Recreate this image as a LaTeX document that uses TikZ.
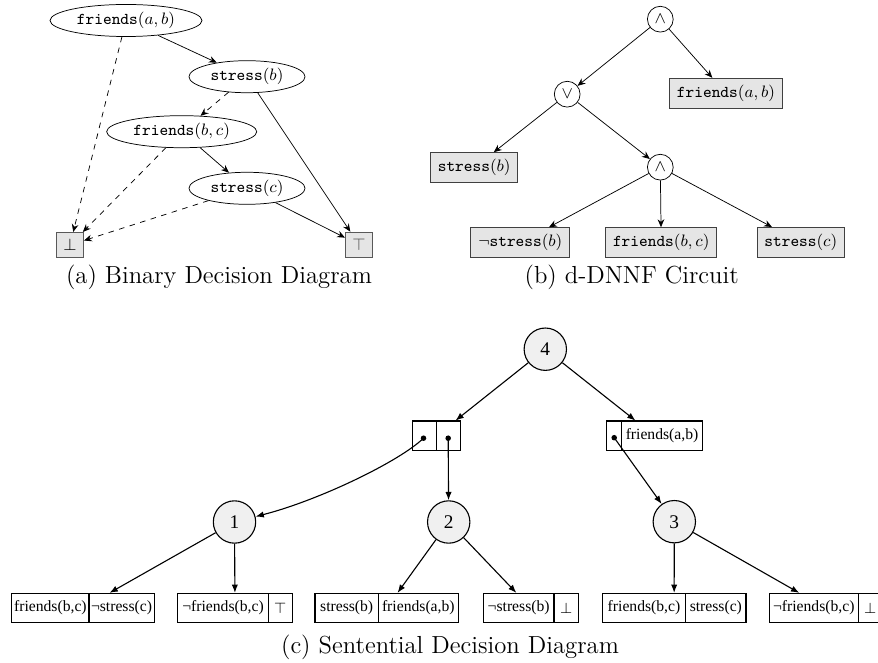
\documentclass[tikz,border=0pt]{standalone}
\usepackage{fontspec}
\newfontfamily\sddf{Liberation Serif}
\usetikzlibrary{shapes.geometric,arrows.meta,fit,calc}
\begin{document}
\begin{tikzpicture}[x=0.543pt,y=0.543pt,
  bdd/.style={ellipse,draw,line width=0.4pt,inner sep=0pt,minimum height=17.4pt,font=\small},
  leaf/.style={draw=black!65,fill=black!10,line width=0.5pt,minimum width=14.7pt,minimum height=13.6pt,inner sep=0pt,font=\small},
  gate/.style={circle,draw,line width=0.4pt,minimum size=14pt,inner sep=0pt,font=\small},
  lit/.style={draw=black!75,fill=black!10,line width=0.5pt,inner xsep=4pt,inner ysep=0pt,minimum height=16.3pt,font=\small},
  arr/.style={-{Stealth[length=4.3pt,width=3.6pt,inset=1.4pt]},line width=0.4pt},
  num/.style={circle,draw,line width=0.6pt,fill=black!6,minimum size=23pt,inner sep=0pt,font=\sddf\fontsize{10.5}{12}\selectfont},
  cell/.style={draw,line width=0.6pt,minimum height=16pt,inner sep=0pt,outer sep=0pt,anchor=west,font=\sddf\fontsize{8.5}{10}\selectfont},
  sarr/.style={-{Latex[length=4.5pt,width=3.4pt]},line width=0.6pt},
  dotm/.style={circle,fill,inner sep=0pt,minimum size=3pt},
  captxt/.style={font=\fontsize{13.4}{16}\selectfont}
]
\useasboundingbox (0,0) rectangle (878,-663);

% ---------- (a) BDD ----------
\node[bdd,minimum width=82.5pt] (fab) at (126,-20.5) {\texttt{friends}$(a,b)$};
\node[bdd,minimum width=63pt] (sb) at (247,-76.7) {\texttt{stress}$(b)$};
\node[bdd,minimum width=81.5pt] (fbc) at (181.7,-131.7) {\texttt{friends}$(b,c)$};
\node[bdd,minimum width=63pt] (sc) at (247,-188.3) {\texttt{stress}$(c)$};
\node[leaf] (bot) at (70,-245) {$\bot$};
\node[leaf] (top) at (359,-244.7) {\textcolor{black!70}{$\top$}};
\draw[arr] (fab) -- (sb);
\draw[arr,dashed] (fab) -- (bot);
\draw[arr,dashed] (sb) -- (fbc);
\draw[arr] (sb) -- (top);
\draw[arr] (fbc) -- (sc);
\draw[arr,dashed] (fbc) -- (bot);
\draw[arr,dashed] (sc) -- (bot);
\draw[arr] (sc) -- (top);
\node[captxt] (capa) at (219,-277.5) {(a) Binary Decision Diagram};

% ---------- (b) d-DNNF ----------
\node[gate] (and1) at (660.3,-19.2) {$\wedge$};
\node[gate] (or1) at (567.2,-94.2) {$\vee$};
\node[lit] (dfab) at (726,-93.3) {\texttt{friends}$(a,b)$};
\node[lit] (dsb) at (474.2,-167.7) {\texttt{stress}$(b)$};
\node[gate] (and2) at (660.3,-167.2) {$\wedge$};
\node[lit] (dnsb) at (520.3,-242.7) {$\neg$\texttt{stress}$(b)$};
\node[lit] (dfbc) at (661.2,-242.7) {\texttt{friends}$(b,c)$};
\node[lit] (dsc) at (800.8,-242.5) {\texttt{stress}$(c)$};
\draw[arr] (and1) -- (or1);
\draw[arr] (and1) -- (dfab);
\draw[arr] (or1) -- (dsb);
\draw[arr] (or1) -- (and2);
\draw[arr] (and2) -- (dnsb);
\draw[arr] (and2) -- (dfbc);
\draw[arr] (and2) -- (dsc);
\node[captxt] (capb) at (631.7,-277.5) {(b) d-DNNF Circuit};

% ---------- (c) SDD ----------
\node[num] (n4) at (545.3,-349.2) {4};
\node[num] (n1) at (234.5,-522) {1};
\node[num] (n2) at (448.7,-522) {2};
\node[num] (n3) at (674.3,-521.7) {3};

% upper elements
\node[cell,minimum width=13.25pt,minimum height=16pt] (e1a) at (412.3,-435.7) {};
\node[cell,minimum width=13.0pt,minimum height=16pt] (e1b) at (e1a.east) {};
\node[fit=(e1a)(e1b),inner sep=0pt] (e1) {};
\node[cell,minimum width=8.15pt,minimum height=16pt] (e2a) at (606.7,-435.7) {};
\node[cell,minimum width=43.8pt,minimum height=16pt] (e2b) at (e2a.east) {friends(a,b)};
\node[fit=(e2a)(e2b),inner sep=0pt] (e2) {};

\coordinate (d1) at ($(e1a.center)+(-1,-2.5)$);
\coordinate (d2) at ($(e1b.center)+(-0.5,-2.5)$);
\coordinate (d3) at ($(e2a.center)+(0,-2)$);

% bottom elements
\node[cell,minimum width=42pt] (b1a) at (11.7,-608) {friends(b,c)};
\node[cell,minimum width=35.3pt] (b1b) at (b1a.east) {¬stress(c)};
\node[fit=(b1a)(b1b),inner sep=0pt] (b1) {};
\node[cell,minimum width=49.2pt] (b2a) at (177.7,-608) {¬friends(b,c)};
\node[cell,minimum width=13pt] (b2b) at (b2a.east) {$\top$};
\node[fit=(b2a)(b2b),inner sep=0pt] (b2) {};
\node[cell,minimum width=34.4pt] (b3a) at (315,-608) {stress(b)};
\node[cell,minimum width=43.4pt] (b3b) at (b3a.east) {friends(a,b)};
\node[fit=(b3a)(b3b),inner sep=0pt] (b3) {};
\node[cell,minimum width=38.4pt] (b4a) at (483.3,-608) {¬stress(b)};
\node[cell,minimum width=13.2pt] (b4b) at (b4a.east) {$\bot$};
\node[fit=(b4a)(b4b),inner sep=0pt] (b4) {};
\node[cell,minimum width=45.3pt] (b5a) at (602.3,-608) {friends(b,c)};
\node[cell,minimum width=32.7pt] (b5b) at (b5a.east) {stress(c)};
\node[fit=(b5a)(b5b),inner sep=0pt] (b5) {};
\node[cell,minimum width=48.3pt] (b6a) at (769.3,-608) {¬friends(b,c)};
\node[cell,minimum width=13pt] (b6b) at (b6a.east) {$\bot$};
\node[fit=(b6a)(b6b),inner sep=0pt] (b6) {};

\draw[sarr] (n4) -- (e1);
\draw[sarr] (n4) -- (e2);
\draw[sarr] (d1) .. controls (400,-461) and (320,-500) .. (n1);
\draw[sarr] (d2) -- (n2);
\draw[sarr] (d3) -- (n3);
\node[dotm] at (d1) {};
\node[dotm] at (d2) {};
\node[dotm] at (d3) {};

\draw[sarr] (n1) -- (b1);
\draw[sarr] (n1) -- (b2);
\draw[sarr] (n2) -- (b3);
\draw[sarr] (n2) -- (b4);
\draw[sarr] (n3) -- (b5);
\draw[sarr] (n3) -- (b6);

\node[captxt] (capc) at (450,-647) {(c) Sentential Decision Diagram};
\end{tikzpicture}
\end{document}
